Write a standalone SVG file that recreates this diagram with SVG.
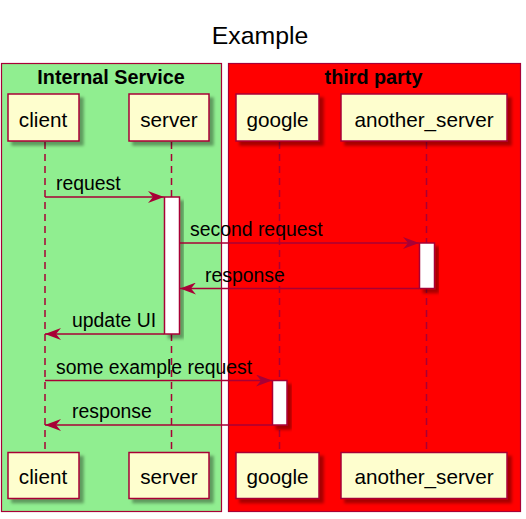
<svg xmlns="http://www.w3.org/2000/svg" width="526" height="519" viewBox="0 0 526 519">
<style>
  .part rect { fill: #FEFECE; stroke: #A80036; stroke-width: 1.5; filter: url(#sh); }
  .part text { font-family: "Liberation Sans", Arial, sans-serif; font-size: 20.7px; fill: #000; text-anchor: middle; }
  .life { stroke: #A80036; stroke-width: 1.5; stroke-dasharray: 7,5; fill: none; }
  .act { fill: #FFFFFF; stroke: #A80036; stroke-width: 1.5; filter: url(#sh); }
  .msg line { stroke: #A80036; stroke-width: 1.4; }
  .msg text { font-family: "Liberation Sans", Arial, sans-serif; font-size: 19.4px; fill: #000; }
  .boxt { font-family: "Liberation Sans", Arial, sans-serif; font-size: 19.8px; font-weight: bold; text-anchor: middle; fill: #000; }
</style>
<defs>
  <filter id="sh" x="-20%" y="-20%" width="150%" height="150%">
    <feDropShadow dx="4" dy="4" stdDeviation="1.8" flood-color="#000" flood-opacity="0.35"/>
  </filter>
  <marker id="ah" viewBox="0 0 16 12" refX="16" refY="6" markerWidth="16" markerHeight="12" markerUnits="userSpaceOnUse" orient="auto">
    <path d="M0,0 L16,6 L0,12 L5,6 Z" fill="#A80036"/>
  </marker>
</defs>
<rect width="526" height="519" fill="#FFFFFF"/>
<text x="260" y="44" font-family="Liberation Sans, Arial, sans-serif" font-size="24.8" text-anchor="middle" fill="#000">Example</text>

<g id="box-internal">
  <rect x="1.5" y="63.5" width="220" height="448" fill="#90EE90" stroke="#A80036" stroke-width="1.2"/>
  <text class="boxt" x="111" y="84">Internal Service</text>
</g>
<g id="box-third">
  <rect x="228.5" y="63.5" width="292" height="448" fill="#FF0000" stroke="#A80036" stroke-width="1.2"/>
  <text class="boxt" x="373.5" y="84">third party</text>
</g>

<g id="lifelines">
  <line class="life" x1="45" y1="142" x2="45" y2="452"/>
  <line class="life" x1="171.5" y1="142" x2="171.5" y2="452"/>
  <line class="life" x1="279.5" y1="142" x2="279.5" y2="452"/>
  <line class="life" x1="426.5" y1="142" x2="426.5" y2="452"/>
</g>

<g id="client" class="part">
  <rect x="8" y="94" width="71" height="47"/>
  <text x="43" y="127">client</text>
  <rect x="8" y="452.5" width="71" height="46"/>
  <text x="43" y="484">client</text>
</g>
<g id="server" class="part">
  <rect x="129" y="94" width="80" height="47"/>
  <text x="169" y="127">server</text>
  <rect x="129" y="452.5" width="80" height="46"/>
  <text x="169" y="484">server</text>
</g>
<g id="google" class="part">
  <rect x="236" y="94" width="83" height="47"/>
  <text x="277.5" y="127">google</text>
  <rect x="236" y="452.5" width="83" height="46"/>
  <text x="277.5" y="484">google</text>
</g>
<g id="another_server" class="part">
  <rect x="341" y="94" width="166" height="47"/>
  <text x="424" y="127">another_server</text>
  <rect x="341" y="452.5" width="166" height="46"/>
  <text x="424" y="484">another_server</text>
</g>

<g id="activations">
  <rect class="act" x="164.5" y="197" width="15" height="137"/>
  <rect class="act" x="419.5" y="243" width="15" height="45.5"/>
  <rect class="act" x="272.5" y="380.5" width="14.5" height="44.5"/>
</g>

<g id="connectors" class="msg">
  <line x1="45" y1="197" x2="164" y2="197" marker-end="url(#ah)"/>
  <text x="56" y="190">request</text>
  <line x1="180" y1="243" x2="419" y2="243" marker-end="url(#ah)"/>
  <text x="190" y="236">second request</text>
  <line x1="419" y1="288.5" x2="180" y2="288.5" marker-end="url(#ah)"/>
  <text x="205" y="281.5">response</text>
  <line x1="164" y1="334" x2="45" y2="334" marker-end="url(#ah)"/>
  <text x="72" y="327">update UI</text>
  <line x1="45" y1="380.5" x2="272" y2="380.5" marker-end="url(#ah)"/>
  <text x="56" y="373.5">some example request</text>
  <line x1="272" y1="425" x2="45" y2="425" marker-end="url(#ah)"/>
  <text x="72" y="418">response</text>
</g>
</svg>
